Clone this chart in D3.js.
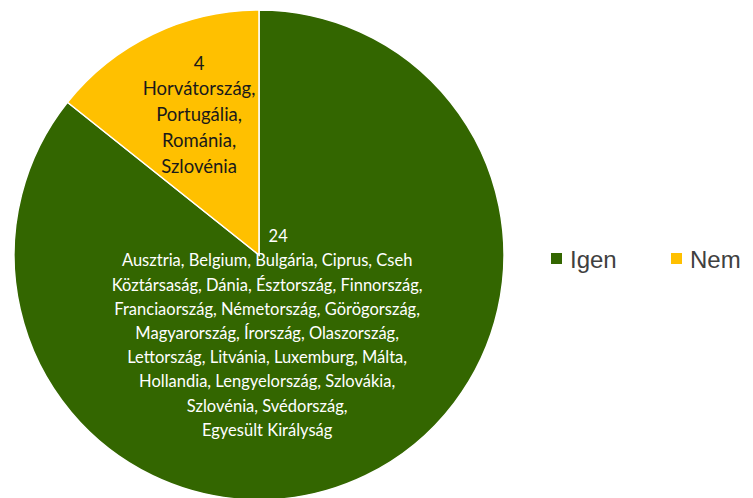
<!DOCTYPE html>
<html lang="hu">
<head>
<meta charset="utf-8">
<title>Igen / Nem</title>
<script src="https://d3js.org/d3.v7.min.js"></script>
<style>
  body { margin: 0; background: #fff; }
  .slice { stroke: #fff; stroke-width: 1.5; }
  .lbl { font-family: Lato, "Open Sans", sans-serif; text-anchor: middle; }
  .legend text { font-family: "Liberation Sans", Arial, sans-serif; font-size: 24px; fill: #404040; }
</style>
</head>
<body>
<script>
var categories = ["Igen", "Nem"];
var values = [24, 4];
var colors = ["#336600", "#FFC000"];
var labelLines = [
  ["Ausztria, Belgium, Bulgária, Ciprus, Cseh",
   "Köztársaság, Dánia, Észtország, Finnország,",
   "Franciaország, Németország, Görögország,",
   "Magyarország, Írország, Olaszország,",
   "Lettország, Litvánia, Luxemburg, Málta,",
   "Hollandia, Lengyelország, Szlovákia,",
   "Szlovénia, Svédország,",
   "Egyesült Királyság"],
  ["Horvátország,", "Portugália,", "Románia,", "Szlovénia"]
];

var width = 753, height = 498;
var cx = 259, cy = 255, R = 245;

var svg = d3.select("body").append("svg")
  .attr("width", width)
  .attr("height", height);

var data = categories.map(function(c, i) {
  return { name: c, value: values[i], color: colors[i], lines: labelLines[i] };
});

var pie = d3.pie().sort(null).value(function(d) { return d.value; });
var arc = d3.arc().innerRadius(0).outerRadius(R);

var g = svg.append("g").attr("transform", "translate(" + cx + "," + cy + ")");

var arcs = pie(data);

g.selectAll(".slice")
  .data(arcs)
  .enter()
  .append("path")
  .attr("class", "slice")
  .attr("fill", function(d) { return d.data.color; })
  .attr("d", arc);

// label anchor: radius fraction, small shift, line step and font size, per slice
var labelPos = [
  { r: 0.34, dx: -28, dy: 9, lineH: 24.2, numDx: 11, size: 16.5, fill: "#ffffff" },
  { r: 0.62, dx: 6, dy: 3, lineH: 25.8, numDx: 0, size: 18.5, fill: "#1a1a1a" }
];

arcs.forEach(function(d, i) {
  var p = labelPos[i];
  var la = d3.arc().innerRadius(R * p.r).outerRadius(R * p.r);
  var c = la.centroid(d);
  var lines = [String(d.data.value)].concat(d.data.lines);
  var top = c[1] + p.dy - (lines.length - 1) * p.lineH / 2;
  var t = g.append("text")
    .attr("class", "lbl")
    .style("font-size", p.size + "px")
    .attr("fill", p.fill);
  lines.forEach(function(s, j) {
    t.append("tspan")
      .attr("x", c[0] + p.dx)
      .attr("y", top + j * p.lineH)
      .attr("dx", j === 0 ? p.numDx : 0)
      .text(s);
  });
});

// legend
var legend = svg.append("g").attr("class", "legend")
  .attr("transform", "translate(551,253)");

var items = legend.selectAll("g")
  .data(data)
  .enter()
  .append("g")
  .attr("transform", function(d, i) { return "translate(" + (i * 120) + ",0)"; });

items.append("rect")
  .attr("width", 11)
  .attr("height", 11)
  .attr("fill", function(d) { return d.color; });

items.append("text")
  .attr("x", 19)
  .attr("y", 15)
  .text(function(d) { return d.name; });
</script>
</body>
</html>
